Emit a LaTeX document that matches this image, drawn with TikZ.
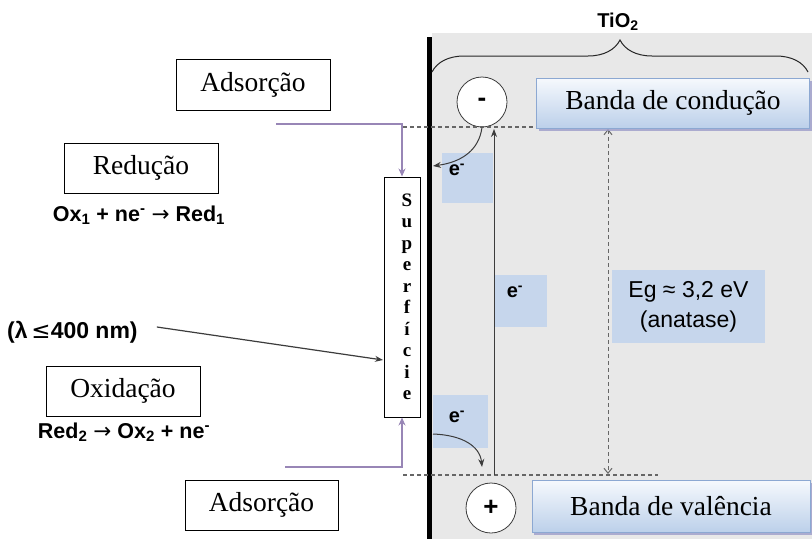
\documentclass[tikz,border=0pt]{standalone}
\usepackage{fontspec}
\setmainfont{Liberation Serif}
\newfontfamily\sansf{Liberation Sans}
\newfontfamily\symf{DejaVu Sans}
\usetikzlibrary{arrows.meta,decorations.pathreplacing,shadows}
\definecolor{bandline}{RGB}{140,168,210}
\definecolor{bandtop}{RGB}{246,249,253}
\definecolor{bandbot}{RGB}{188,208,234}
\definecolor{labelbg}{RGB}{198,214,236}
\definecolor{adsline}{RGB}{152,134,182}
\definecolor{oxide}{RGB}{232,232,232}
\definecolor{darkline}{RGB}{60,60,60}
\newcommand{\elec}{e\textsuperscript{-}}
\newcommand{\yields}{\ {\symf\mdseries →}\ }
\tikzset{
  stepbox/.style={draw=black, line width=1pt, fill=white, inner sep=0pt,
    font=\fontsize{27.5}{30}\selectfont},
  bandbox/.style={draw=bandline, line width=1pt, top color=bandtop, bottom color=bandbot,
    inner sep=0pt, font=\fontsize{27.5}{30}\selectfont,
    drop shadow={shadow xshift=2pt, shadow yshift=-3pt, fill=gray!70!blue!60, opacity=0.8}},
  chem/.style={font=\sansf\bfseries\fontsize{21.5}{26}\selectfont, inner sep=0pt},
  elabel/.style={fill=labelbg, inner sep=0pt, font=\sansf\bfseries\fontsize{20}{24}\selectfont},
  carrier/.style={circle, draw=darkline, line width=0.8pt, fill=white, minimum size=50pt,
    inner sep=0pt, font=\sansf\bfseries\fontsize{26}{26}\selectfont},
  adsorb/.style={draw=adsline, line width=2pt, -{Stealth[length=8pt,width=7pt]}},
  level/.style={draw=gray!80!black, line width=1.2pt, dash pattern=on 4pt off 3pt},
  flow/.style={draw=darkline, line width=1pt, -{Stealth[length=8pt,width=6pt]}},
}
\begin{document}
\begin{tikzpicture}[x=1pt,y=-1pt]
\useasboundingbox (0,0) rectangle (812,539);
\fill[white] (0,0) rectangle (812,539);

% TiO2 crystal region
\fill[oxide] (432,33) rectangle (812,539);
\draw[line width=5pt] (429.5,37) -- (429.5,539);
\draw[gray!30!black, line width=1pt, decorate,
  decoration={brace, amplitude=32pt, aspect=0.5}] (432,72) -- (808,72);
\node[font=\sansf\bfseries\fontsize{20}{22}\selectfont] (tio) at (618,22) {TiO\textsubscript{2}};

% band edges
\node[carrier] (minus) at (482,102) {-};
\node[carrier] (plus) at (491,508) {+};
\coordinate (cbL) at (403,127);
\coordinate (cbR) at (660,127);
\coordinate (vbL) at (403,475);
\coordinate (vbR) at (658,475);
\draw[level] (cbL) -- (cbR);
\draw[level] (vbL) -- (vbR);

% labels on light blue patches
\node[elabel, minimum width=51pt, minimum height=50pt] (e1) at (467.5,178) {};
\node[elabel] at (457,170) {\elec};
\node[elabel, minimum width=52pt, minimum height=52pt] (e2) at (521,301) {};
\node[elabel] at (515,292) {\elec};
\node[elabel, minimum width=55pt, minimum height=53pt] (e3) at (460.5,421.5) {};
\node[elabel] at (457,417) {\elec};
\node[fill=labelbg, minimum width=153pt, minimum height=73pt, inner sep=0pt,
  align=center, font=\sansf\fontsize{23}{30}\selectfont] (eg) at (688.5,306.5)
  {Eg ≈ 3,2 eV\\(anatase)};

% band gap and excitation
\coordinate (gapT) at (608,129);
\coordinate (gapB) at (608,474);
\draw[level, line width=1pt, {Straight Barb[length=5pt,width=8pt]}-{Straight Barb[length=5pt,width=8pt]}] (gapT) -- (gapB);
\coordinate (exB) at (494,475);
\coordinate (exT) at (494,129);
\draw[flow, line width=0.8pt] (exB) -- (exT);

% electron transfer curves
\coordinate (wallT) at (433,166);
\coordinate (wallB) at (433,434);
\coordinate (holeIn) at (482,467);
\draw[flow] (minus.south) .. controls (479,150) and (462,162) .. (wallT);
\draw[flow] (wallB) .. controls (462,435) and (480,446) .. (holeIn);

% band boxes
\node[bandbox, minimum width=273pt, minimum height=50pt] (cond) at (673,103) {Banda de condução};
\node[bandbox, minimum width=278pt, minimum height=52pt] (val) at (671,506) {Banda de valência};

% surface and processes
\node[stepbox, minimum width=36pt, minimum height=240pt, align=center,
  font=\bfseries\fontsize{19}{21.5}\selectfont] (surf) at (402,297)
  {\hspace*{10pt}S\\\hspace*{10pt}u\\\hspace*{10pt}p\\\hspace*{10pt}e\\\hspace*{10pt}r\\\hspace*{10pt}f\\\hspace*{10pt}í\\\hspace*{10pt}c\\\hspace*{10pt}i\\\hspace*{10pt}e};
\node[stepbox, minimum width=154pt, minimum height=51pt] (adsT) at (253,84.5) {Adsorção};
\node[stepbox, minimum width=154pt, minimum height=50pt] (red) at (141,168) {Redução};
\node[stepbox, minimum width=154pt, minimum height=50pt] (oxi) at (123,391) {Oxidação};
\node[stepbox, minimum width=153pt, minimum height=50pt] (adsB) at (261.5,505) {Adsorção};

\node[chem] (redeq) at (139,215) {Ox\textsubscript{1} + ne\textsuperscript{-}\yields Red\textsubscript{1}};
\node[chem] (oxeq) at (124,432) {Red\textsubscript{2}\yields Ox\textsubscript{2} + ne\textsuperscript{-}};
\node[chem, anchor=west, font=\sansf\bfseries\fontsize{23}{26}\selectfont] (lam) at (7,332) {(λ\,{\symf\mdseries ≤}400 nm)};

\coordinate (adsTin) at (276,124);
\coordinate (adsBin) at (285,467);
\draw[adsorb] (adsTin) -| (surf.north);
\draw[adsorb] (adsBin) -| (surf.south);

% incident light
\coordinate (lamhit) at (383,360);
\path (lam.east) ++(19pt,5pt) coordinate (lamsrc);
\draw[flow, line width=1.2pt] (lamsrc) -- (lamhit);
\end{tikzpicture}
\end{document}
